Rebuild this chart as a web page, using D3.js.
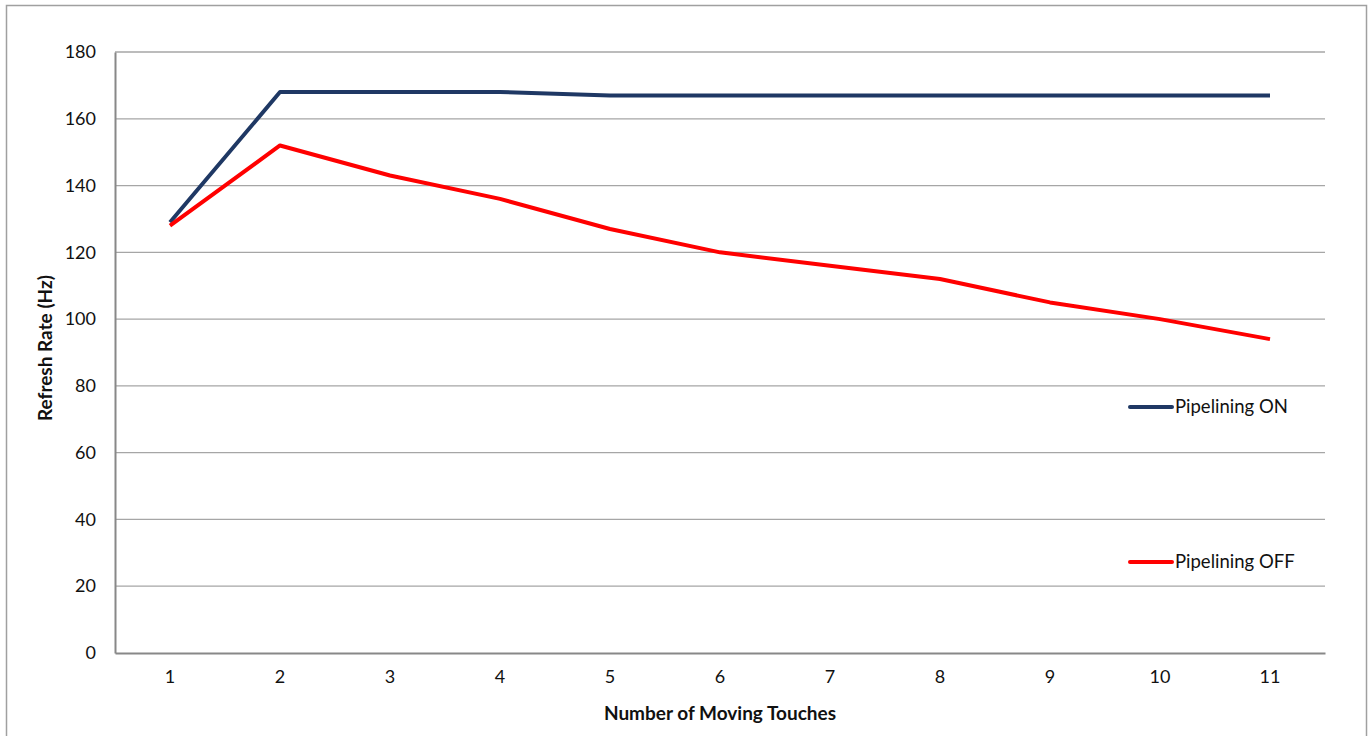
<!DOCTYPE html>
<html><head><meta charset="utf-8">
<script src="https://cdn.jsdelivr.net/npm/d3@7"></script>
<style>body{margin:0;background:#fff}svg{display:block;font-family:Lato,"Open Sans",sans-serif}</style>
</head><body><svg id="c" width="1368" height="736"></svg>
<script>
const categories = [1,2,3,4,5,6,7,8,9,10,11];
const pipeliningOn = [129,168,168,168,167,167,167,167,167,167,167];
const pipeliningOff = [128,152,143,136,127,120,116,112,105,100,94];
const yTicks = [0,20,40,60,80,100,120,140,160,180];
const seriesNames = ["Pipelining ON","Pipelining OFF"];
const colors = ["#1f3864","#ff0000"];

const svg = d3.select("#c");
const m = {l:115, r:1325, t:52, b:653};
svg.append("rect").attr("x",6.5).attr("y",5.5).attr("width",1360).attr("height",740)
  .attr("fill","none").attr("stroke","#a0a0a0").attr("stroke-width",1.5);

const x = d3.scaleBand().domain(categories).range([m.l,m.r]);
const y = d3.scaleLinear().domain([0,180]).range([m.b,m.t]);

svg.append("g").selectAll("line").data(yTicks.filter(d=>d>0)).join("line")
  .attr("x1",m.l).attr("x2",m.r).attr("y1",d=>y(d)).attr("y2",d=>y(d))
  .attr("stroke","#a6a6a6").attr("stroke-width",1.3);

const yAxis = svg.append("g").attr("transform",`translate(${m.l},0)`)
  .call(d3.axisLeft(y).tickValues(yTicks).tickSize(0).tickPadding(19));
yAxis.select(".domain").attr("stroke","#888").attr("stroke-width",2);
yAxis.selectAll("text").attr("font-size",18).attr("fill","#111").style("font-family","Lato");

const xAxis = svg.append("g").attr("transform",`translate(0,${m.b})`)
  .call(d3.axisBottom(x).tickSize(0).tickPadding(17));
xAxis.select(".domain").attr("stroke","#888").attr("stroke-width",2);
xAxis.selectAll("text").attr("font-size",18).attr("fill","#111").style("font-family","Lato");

const line = d3.line().x((d,i)=>x(categories[i])+x.bandwidth()/2).y(d=>y(d));
[pipeliningOn,pipeliningOff].forEach((s,i)=>{
  svg.append("path").datum(s).attr("d",line).attr("fill","none")
    .attr("stroke",colors[i]).attr("stroke-width",4).attr("stroke-linejoin","round");
});

const legY = [407,562];
seriesNames.forEach((n,i)=>{
  svg.append("line").attr("x1",1130).attr("x2",1172).attr("y1",legY[i]).attr("y2",legY[i])
    .attr("stroke",colors[i]).attr("stroke-width",4).attr("stroke-linecap","round");
  svg.append("text").attr("x",1175).attr("y",legY[i]).attr("dy","0.35em")
    .attr("font-size",18.5).attr("fill","#111").text(n);
});

svg.append("text").attr("x",720).attr("y",720).attr("text-anchor","middle")
  .attr("font-size",19).attr("font-weight","bold").attr("fill","#111").text("Number of Moving Touches");
svg.append("text").attr("transform","translate(52,348) rotate(-90)").attr("text-anchor","middle")
  .attr("font-size",19).attr("font-weight","bold").attr("fill","#111").text("Refresh Rate (Hz)");
</script></body></html>
